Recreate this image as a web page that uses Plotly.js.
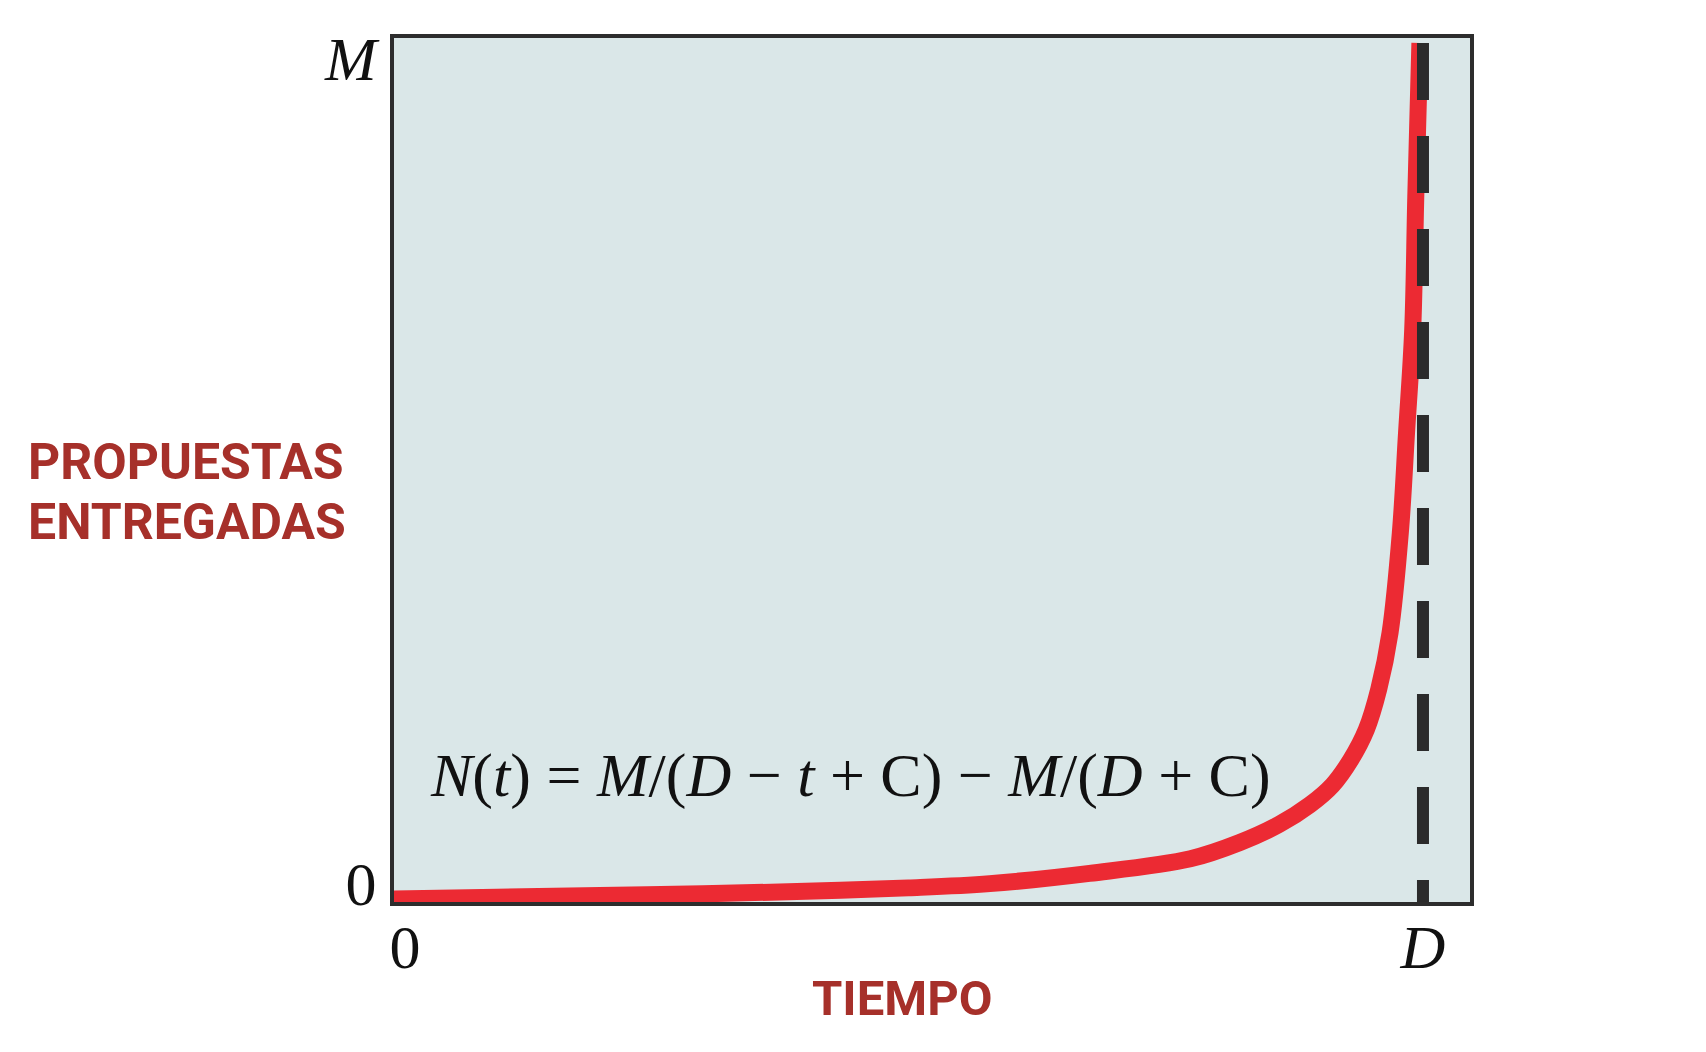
<!DOCTYPE html>
<html>
<head>
<meta charset="utf-8">
<script src="https://cdn.plot.ly/plotly-3.0.1.min.js"></script>
<style>
html,body{margin:0;padding:0;background:#ffffff;}
#chart{width:1706px;height:1052px;}
</style>
</head>
<body>
<div id="chart"></div>
<script>
// Curve: time as fraction of D, proposals as fraction of M
const tiempo = [0, 0.10, 0.20, 0.30, 0.40, 0.50, 0.579, 0.676, 0.774, 0.822, 0.860, 0.890, 0.912, 0.930, 0.945, 0.957, 0.968, 0.978, 0.984, 0.990, 0.993, 0.997];
const propuestas = [0, 0.002, 0.004, 0.006, 0.009, 0.013, 0.018, 0.030, 0.047, 0.066, 0.087, 0.110, 0.133, 0.163, 0.198, 0.245, 0.311, 0.428, 0.544, 0.665, 0.820, 1.0];

// Vertical asymptote at t = D
const asintotaT = [1, 1];
const asintotaN = [1, -0.05];

// Tick labels
const xTickText = ["0", "<i>D</i>"];
const yTickText = ["0", "<i>M</i>"];

const formula = "<i>N</i>(<i>t</i>) = <i>M</i>/(<i>D</i> − <i>t</i> + C) − <i>M</i>/(<i>D</i> + C)";
const yTitleLines = ["PROPUESTAS", "ENTREGADAS"];
const xTitle = "TIEMPO";

const serif = "Liberation Serif, DejaVu Serif, serif";
const titleRed = "#a6302a";

const traces = [
  {
    x: tiempo, y: propuestas, type: "scatter", mode: "lines",
    line: {color: "#ec2a33", width: 17, shape: "spline", smoothing: 1.0},
    hoverinfo: "skip", showlegend: false
  },
  {
    x: asintotaT, y: asintotaN, type: "scatter", mode: "lines",
    line: {color: "#2b2b2b", width: 12, dash: "57px,36px"},
    hoverinfo: "skip", showlegend: false
  }
];

const titleFont = {family: "Roboto, sans-serif", size: 50, color: titleRed, weight: 700};
const yTitleY = [462, 522];

const layout = {
  width: 1706, height: 1052,
  margin: {l: 394, r: 236, t: 38, b: 150, pad: 0},
  paper_bgcolor: "#ffffff",
  plot_bgcolor: "#dae7e8",
  showlegend: false,
  xaxis: {
    range: [0, 1.0457],
    showgrid: false, zeroline: false,
    showline: true, linecolor: "#2d2d2d", linewidth: 4, mirror: true,
    ticks: "", tickvals: [0.0107, 1], ticktext: xTickText,
    tickfont: {family: serif, size: 62, color: "#111111"},
    ticklabelstandoff: -12,
    fixedrange: true
  },
  yaxis: {
    range: [-0.0035, 1.0058],
    showgrid: false, zeroline: false,
    showline: true, linecolor: "#2d2d2d", linewidth: 4, mirror: true,
    ticks: "", tickvals: [0.0187, 0.982], ticktext: yTickText,
    tickfont: {family: serif, size: 62, color: "#111111"},
    ticklabelstandoff: 1,
    fixedrange: true
  },
  annotations: [
    {
      text: formula, xref: "paper", yref: "paper",
      x: (850 - 394) / 1076, y: (902 - 775) / 864,
      xanchor: "center", yanchor: "middle", showarrow: false,
      font: {family: serif, size: 62, color: "#111111"}
    },
    {
      text: yTitleLines[0], xref: "paper", yref: "paper",
      x: (26 - 394) / 1076, y: (902 - yTitleY[0]) / 864,
      xanchor: "left", yanchor: "middle", showarrow: false,
      font: titleFont
    },
    {
      text: yTitleLines[1], xref: "paper", yref: "paper",
      x: (26 - 394) / 1076, y: (902 - yTitleY[1]) / 864,
      xanchor: "left", yanchor: "middle", showarrow: false,
      font: titleFont
    },
    {
      text: xTitle, xref: "paper", yref: "paper",
      x: (902 - 394) / 1076, y: (902 - 998) / 864,
      xanchor: "center", yanchor: "middle", showarrow: false,
      font: {family: "Roboto, sans-serif", size: 49, color: titleRed, weight: 700}
    }
  ]
};

Plotly.newPlot("chart", traces, layout, {displayModeBar: false, staticPlot: true});
</script>
</body>
</html>
